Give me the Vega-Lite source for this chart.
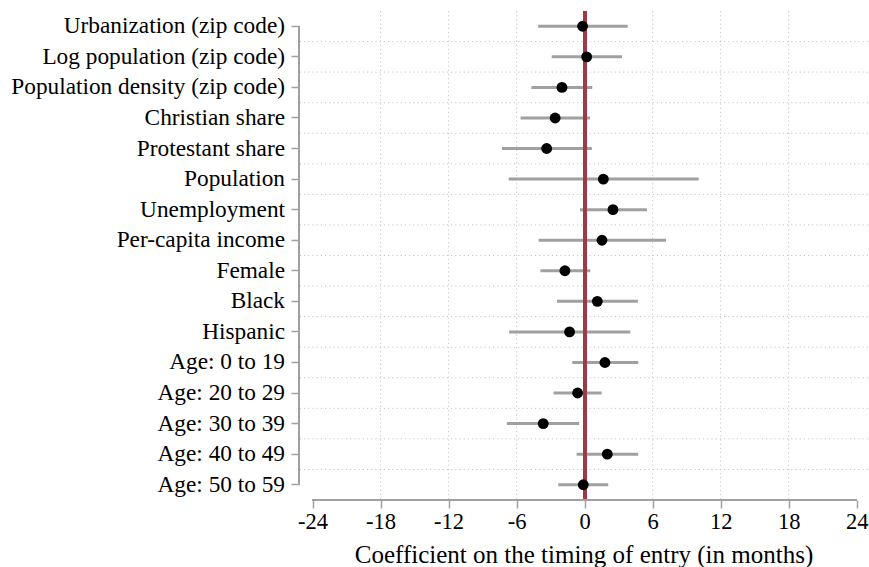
{
  "$schema": "https://vega.github.io/schema/vega-lite/v6.json",
  "width": 569,
  "height": 489,
  "autosize": {"type": "none"},
  "padding": {"left": 299, "top": 11, "right": 1, "bottom": 67},
  "config": {"view": {"stroke": null}, "font": "Liberation Serif"},
  "datasets": {
    "coef": [
      {"term": "Urbanization (zip code)", "est": -0.18, "lo": -4.1, "hi": 3.8},
      {"term": "Log population (zip code)", "est": 0.18, "lo": -2.9, "hi": 3.3},
      {"term": "Population density (zip code)", "est": -2.0, "lo": -4.7, "hi": 0.67},
      {"term": "Christian share", "est": -2.6, "lo": -5.65, "hi": 0.47},
      {"term": "Protestant share", "est": -3.35, "lo": -7.3, "hi": 0.64},
      {"term": "Population", "est": 1.65, "lo": -6.7, "hi": 10.06},
      {"term": "Unemployment", "est": 2.5, "lo": -0.41, "hi": 5.5},
      {"term": "Per-capita income", "est": 1.53, "lo": -4.06, "hi": 7.18},
      {"term": "Female", "est": -1.74, "lo": -3.9, "hi": 0.5},
      {"term": "Black", "est": 1.12, "lo": -2.44, "hi": 4.7},
      {"term": "Hispanic", "est": -1.33, "lo": -6.65, "hi": 4.03},
      {"term": "Age: 0 to 19", "est": 1.79, "lo": -1.09, "hi": 4.73},
      {"term": "Age: 20 to 29", "est": -0.62, "lo": -2.74, "hi": 1.5},
      {"term": "Age: 30 to 39", "est": -3.65, "lo": -6.86, "hi": -0.48},
      {"term": "Age: 40 to 49", "est": 2.0, "lo": -0.71, "hi": 4.73},
      {"term": "Age: 50 to 59", "est": -0.12, "lo": -2.33, "hi": 2.08}
    ],
    "vgrid": [{"v": -18}, {"v": -12}, {"v": -6}, {"v": 6}, {"v": 12}, {"v": 18}]
  },
  "data": {"name": "coef"},
  "layer": [
    {
      "transform": [{"filter": "datum.term !== 'Urbanization (zip code)'"}],
      "mark": {"type": "rule", "color": "#c4c4c4", "strokeDash": [1.2, 3], "strokeWidth": 1},
      "encoding": {
        "y": {"field": "term", "type": "nominal", "bandPosition": 0,
              "scale": {"type": "band", "paddingInner": 0, "paddingOuter": 0,
                        "domain": ["Urbanization (zip code)", "Log population (zip code)", "Population density (zip code)", "Christian share", "Protestant share", "Population", "Unemployment", "Per-capita income", "Female", "Black", "Hispanic", "Age: 0 to 19", "Age: 20 to 29", "Age: 30 to 39", "Age: 40 to 49", "Age: 50 to 59"]},
              "axis": {"title": null, "domain": false, "grid": false, "ticks": true, "tickSize": 8, "tickColor": "#a0a0a0", "tickWidth": 1.5,
                       "labelFontSize": 23.3, "labelColor": "#000000", "labelPadding": 6.5, "labelLimit": 400}}
      }
    },
    {
      "data": {"name": "vgrid"},
      "mark": {"type": "rule", "color": "#c4c4c4", "strokeDash": [1.2, 3], "strokeWidth": 1},
      "encoding": {
        "x": {"field": "v", "type": "quantitative",
              "scale": {"domain": [-25.2, 25.0], "nice": false, "zero": false},
              "axis": {"values": [-24, -18, -12, -6, 0, 6, 12, 18, 24], "domain": false, "grid": false,
                       "labelExpr": "'' + datum.value",
                       "tickSize": 8, "tickColor": "#a0a0a0", "tickWidth": 1.5,
                       "labelFontSize": 22.5, "labelColor": "#000000", "labelPadding": 2, "labelFlush": false,
                       "title": "Coefficient on the timing of entry (in months)", "titleFontSize": 25,
                       "titleFontWeight": "normal", "titleColor": "#000000", "titlePadding": 10}}
      }
    },
    {
      "mark": {"type": "rule", "color": "#a0a0a0", "strokeWidth": 3},
      "encoding": {
        "y": {"field": "term", "type": "nominal"},
        "x": {"field": "lo", "type": "quantitative"},
        "x2": {"field": "hi"}
      }
    },
    {
      "mark": {"type": "rule", "color": "#9e3a46", "strokeWidth": 3.2},
      "encoding": {"x": {"datum": 0}}
    },
    {
      "mark": {"type": "circle", "color": "#000000", "opacity": 1, "size": 118},
      "encoding": {
        "y": {"field": "term", "type": "nominal"},
        "x": {"field": "est", "type": "quantitative"}
      }
    },
    {
      "mark": {"type": "rule", "color": "#a0a0a0", "strokeWidth": 1.5},
      "encoding": {
        "x": {"datum": -25.2},
        "y": {"datum": "Urbanization (zip code)"},
        "y2": {"datum": "Age: 50 to 59"}
      }
    },
    {
      "mark": {"type": "rule", "color": "#a0a0a0", "strokeWidth": 1.5},
      "encoding": {
        "x": {"datum": -24},
        "x2": {"datum": 24},
        "y": {"datum": "Age: 50 to 59", "bandPosition": 1}
      }
    }
  ]
}
